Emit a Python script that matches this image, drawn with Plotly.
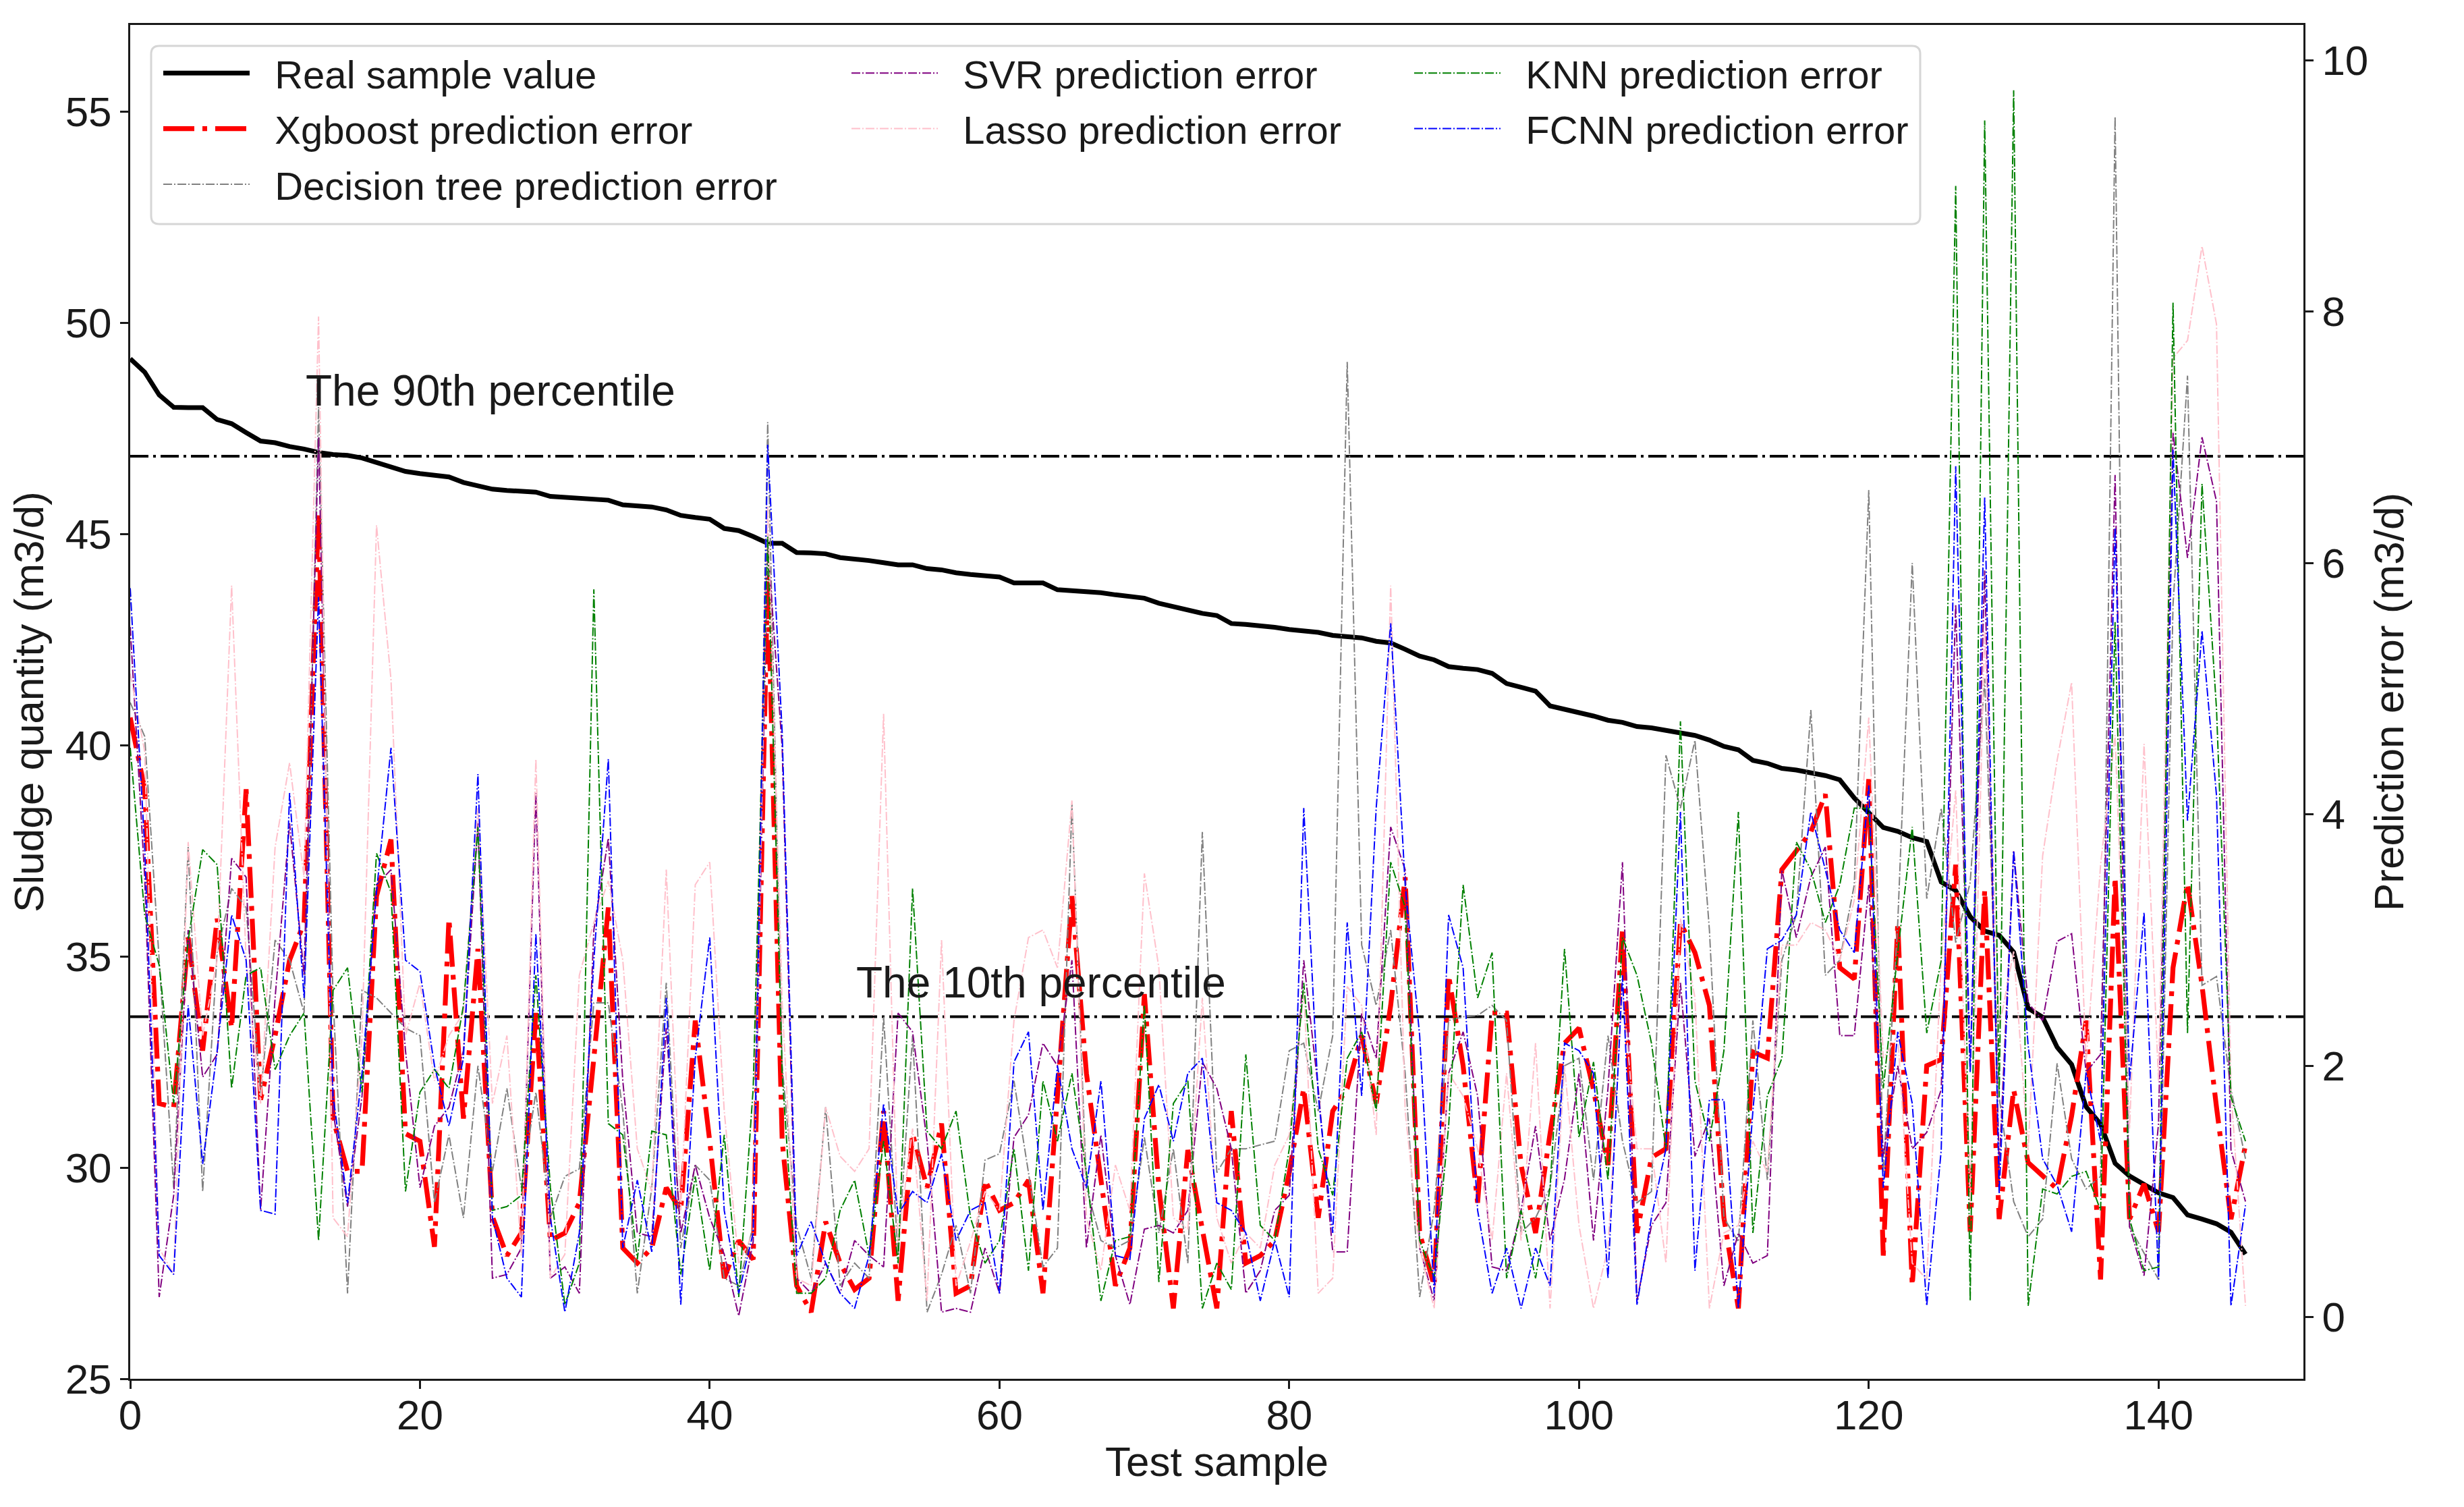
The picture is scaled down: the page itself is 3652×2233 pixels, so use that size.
import plotly.graph_objects as go

# ---------------- data ----------------
samples = list(range(147))

real_value = [49.15, 48.83, 48.29, 48.0, 47.99, 47.99, 47.71, 47.61, 47.4, 47.2,
              47.16, 47.07, 47.01, 46.93, 46.88, 46.86, 46.8, 46.7, 46.6, 46.48,
              46.43, 46.4, 46.35, 46.22, 46.13, 46.06, 46.03, 46.0, 45.99, 45.89,
              45.87, 45.85, 45.82, 45.8, 45.69, 45.66, 45.64, 45.57, 45.44, 45.39,
              45.35, 45.13, 45.08, 44.94, 44.78, 44.78, 44.56, 44.55, 44.53, 44.44,
              44.41, 44.37, 44.32, 44.27, 44.27, 44.18, 44.15, 44.08, 44.04, 44.0,
              43.98, 43.84, 43.84, 43.84, 43.68, 43.66, 43.64, 43.61, 43.56, 43.51,
              43.48, 43.36, 43.28, 43.2, 43.12, 43.07, 42.88, 42.86, 42.83, 42.79,
              42.74, 42.70, 42.67, 42.6, 42.58, 42.54, 42.46, 42.42, 42.27, 42.11,
              42.02, 41.86, 41.82, 41.79, 41.70, 41.46, 41.37, 41.28, 40.93, 40.85,
              40.78, 40.69, 40.59, 40.54, 40.44, 40.41, 40.35, 40.29, 40.23, 40.12,
              39.97, 39.89, 39.64, 39.57, 39.45, 39.41, 39.35, 39.28, 39.18, 38.75,
              38.4, 38.05, 37.96, 37.81, 37.72, 36.76, 36.56, 35.94, 35.6, 35.5,
              35.1, 33.77, 33.56, 32.85, 32.44, 31.44, 31.03, 30.1, 29.8, 29.6,
              29.4, 29.29, 28.88, 28.78, 28.67, 28.47, 27.95]

xgboost_err = [4.77, 4.2, 1.7, 1.67, 3.02, 2.12, 3.17, 2.3, 4.2, 1.73,
               2.24, 2.84, 3.14, 6.4, 1.58, 1.16, 1.16, 3.35, 3.8, 1.46,
               1.4, 0.56, 3.17, 1.58, 2.93, 0.8, 0.49, 0.67, 2.42, 0.61,
               0.67, 0.91, 2.06, 3.26, 0.55, 0.43, 0.55, 1.03, 0.85, 2.36,
               1.4, 0.31, 0.61, 0.46, 5.91, 1.4, 0.25, 0.04, 0.76, 0.43,
               0.22, 0.31, 1.64, 0.13, 1.46, 1.03, 1.54, 0.19, 0.25, 1.09,
               0.85, 0.91, 1.09, 0.19, 1.76, 3.35, 1.94, 1.09, 0.25, 0.55,
               2.57, 1.03, 0.07, 1.33, 0.7, 0.07, 1.64, 0.43, 0.49, 0.61,
               1.15, 1.82, 0.79, 1.64, 1.82, 2.24, 1.7, 2.48, 3.5, 0.67,
               0.25, 2.72, 2.0, 0.91, 2.42, 2.42, 1.21, 0.67, 1.46, 2.18,
               2.3, 1.81, 1.21, 3.08, 0.67, 1.27, 1.34, 3.14, 2.9, 2.48,
               0.79, 0.07, 2.11, 2.06, 3.56, 3.71, 3.86, 4.16, 2.78, 2.69,
               4.28, 0.49, 3.14, 0.25, 2.0, 2.05, 3.6, 0.68, 3.4, 0.78,
               1.81, 1.23, 1.12, 1.02, 1.6, 2.36, 0.3, 3.5, 0.78, 1.06,
               0.68, 2.78, 3.45, 2.64, 1.67, 0.78, 1.37]

dtree_err = [4.89, 4.62, 2.84, 1.03, 3.74, 1.0, 2.9, 3.41, 3.26, 1.76,
             3.0, 2.84, 2.42, 7.24, 2.54, 0.19, 2.6, 2.54, 2.42, 2.3,
             2.24, 0.91, 1.45, 0.79, 2.0, 1.16, 1.82, 1.03, 1.79, 0.79,
             1.12, 1.18, 2.5, 2.5, 1.64, 0.19, 1.03, 2.66, 0.55, 1.21,
             1.09, 0.31, 0.25, 0.73, 7.12, 2.0, 0.73, 0.31, 1.67, 0.25,
             0.43, 0.31, 2.39, 0.49, 2.24, 0.04, 0.34, 0.73, 0.19, 1.25,
             1.3, 1.88, 1.15, 0.4, 0.55, 4.08, 1.03, 0.61, 0.55, 0.61,
             1.43, 0.67, 1.34, 0.43, 3.86, 1.15, 1.34, 1.34, 1.37, 1.4,
             2.12, 2.18, 1.64, 2.24, 7.6, 2.96, 2.48, 3.08, 1.94, 0.16,
             0.85, 2.36, 2.39, 2.4, 2.48, 2.36, 0.67, 0.79, 1.03, 2.0,
             2.06, 1.09, 2.24, 1.4, 0.91, 1.0, 4.47, 4.05, 4.59, 3.08,
             0.79, 0.6, 2.36, 1.09, 2.84, 3.2, 4.83, 2.72, 2.84, 3.44,
             6.58, 1.15, 3.14, 6.0, 3.33, 4.05, 2.98, 3.46, 5.08, 1.75,
             0.92, 0.64, 0.78, 2.02, 1.26, 1.02, 1.12, 9.55, 0.72, 0.51,
             0.3, 5.67, 7.49, 2.64, 2.71, 1.81, 1.26]

svr_err = [5.49, 3.5, 0.16, 0.97, 3.08, 1.91, 2.09, 3.65, 3.5, 0.85,
           2.54, 3.93, 2.72, 7.0, 1.64, 0.88, 1.76, 3.44, 3.56, 2.12,
           1.03, 1.52, 1.67, 2.12, 3.93, 0.31, 0.34, 0.55, 4.17, 0.31,
           0.4, 0.19, 3.08, 3.81, 1.88, 0.67, 0.64, 2.3, 0.67, 1.21,
           0.79, 0.5, 0.01, 0.6, 6.15, 4.53, 0.31, 0.19, 0.43, 0.19,
           0.61, 0.49, 0.4, 2.42, 2.27, 1.4, 0.04, 0.07, 0.04, 0.55,
           0.19, 1.43, 1.61, 2.18, 2.0, 2.84, 0.55, 1.45, 0.49, 0.1,
           0.7, 0.73, 0.67, 0.85, 2.03, 1.82, 1.34, 0.19, 0.37, 0.85,
           0.97, 2.84, 1.82, 0.52, 0.52, 2.42, 2.06, 3.9, 3.56, 0.55,
           0.13, 1.94, 2.27, 1.76, 0.4, 0.37, 0.85, 1.52, 0.61, 1.1,
           1.94, 0.61, 1.82, 3.62, 0.13, 0.73, 0.91, 2.66, 1.28, 1.58,
           0.25, 0.67, 0.43, 0.49, 3.56, 3.02, 3.5, 3.74, 2.24, 2.24,
           3.44, 1.28, 2.0, 1.34, 1.47, 1.81, 5.67, 1.95, 5.94, 1.19,
           3.71, 2.5, 2.36, 2.99, 3.05, 1.95, 2.09, 6.7, 0.72, 0.33,
           1.54, 7.04, 6.04, 7.0, 6.49, 1.33, 0.92]

lasso_err = [5.12, 4.5, 0.55, 0.34, 3.78, 2.24, 2.84, 5.82, 2.84, 1.7,
             3.74, 4.41, 3.5, 7.96, 0.79, 0.64, 2.24, 6.3, 5.07, 2.24,
             2.66, 1.88, 2.24, 2.42, 4.05, 1.7, 2.24, 0.49, 4.44, 0.31,
             0.5, 2.72, 3.14, 3.47, 2.84, 1.34, 1.0, 3.56, 0.85, 3.44,
             3.62, 1.64, 0.43, 0.67, 6.45, 2.5, 0.31, 0.25, 1.67, 1.28,
             1.16, 1.34, 4.8, 0.6, 1.5, 0.13, 3.0, 0.25, 0.6, 1.0,
             0.85, 2.36, 3.02, 3.08, 2.78, 4.11, 0.79, 0.37, 1.21, 0.85,
             3.53, 2.78, 0.79, 0.7, 2.54, 0.79, 0.43, 0.67, 0.55, 1.21,
             1.45, 2.6, 0.19, 0.31, 2.63, 2.48, 1.45, 5.82, 1.64, 0.55,
             0.07, 1.94, 1.76, 1.34, 0.61, 1.94, 0.61, 2.18, 0.07, 2.0,
             0.73, 0.07, 0.55, 2.6, 1.34, 1.34, 0.43, 3.17, 2.54, 0.07,
             0.67, 0.73, 1.4, 1.15, 2.96, 2.96, 3.14, 3.08, 2.84, 3.32,
             4.77, 2.06, 2.24, 0.43, 0.3, 2.84, 4.19, 0.92, 5.46, 2.3,
             2.91, 1.33, 3.67, 4.43, 5.05, 2.02, 3.6, 4.63, 1.5, 4.56,
             1.88, 7.63, 7.77, 8.52, 7.9, 1.81, 0.09]

knn_err = [4.53, 3.2, 2.8, 1.7, 3.0, 3.72, 3.6, 1.82, 2.72, 2.78,
           1.97, 2.24, 2.42, 0.61, 2.6, 2.78, 1.79, 3.69, 3.38, 1.0,
           1.79, 1.97, 1.82, 2.48, 3.9, 0.85, 0.88, 0.97, 2.72, 1.03,
           0.1, 0.43, 5.79, 1.54, 1.45, 0.46, 1.48, 1.45, 0.34, 1.12,
           0.37, 1.45, 0.16, 1.82, 6.21, 1.94, 0.19, 0.19, 0.31, 0.85,
           1.09, 0.49, 1.4, 0.43, 3.41, 1.48, 1.34, 1.64, 0.79, 0.43,
           0.61, 1.34, 0.37, 1.88, 1.4, 1.94, 1.15, 0.13, 0.61, 0.64,
           2.48, 0.28, 1.7, 1.88, 0.07, 0.43, 0.22, 2.09, 0.73, 0.61,
           1.34, 2.66, 1.34, 0.97, 2.06, 2.27, 1.64, 3.62, 3.26, 0.61,
           0.31, 1.52, 3.44, 2.54, 2.9, 0.31, 0.85, 0.31, 1.03, 2.93,
           1.43, 2.03, 1.09, 3.02, 2.72, 2.18, 1.34, 4.74, 1.88, 1.4,
           2.12, 4.02, 0.67, 1.76, 2.06, 3.78, 3.56, 3.14, 3.44, 4.05,
           4.05, 1.82, 2.9, 3.9, 2.26, 2.84, 9.0, 0.13, 9.52, 1.75,
           9.76, 0.09, 1.02, 0.98, 1.12, 1.16, 0.85, 5.53, 0.78, 0.37,
           0.4, 8.07, 2.26, 6.63, 4.84, 1.75, 1.4]

fcnn_err = [5.8, 3.74, 0.49, 0.34, 2.48, 1.22, 2.12, 3.2, 2.84, 0.85,
            0.82, 4.17, 2.54, 5.73, 1.76, 0.91, 1.94, 3.38, 4.53, 2.84,
            2.75, 2.0, 1.52, 2.06, 4.32, 0.79, 0.31, 0.16, 3.05, 0.79,
            0.04, 0.67, 2.84, 4.44, 0.55, 1.09, 0.52, 2.54, 0.1, 2.06,
            3.02, 0.85, 0.19, 0.67, 6.94, 4.65, 0.49, 0.76, 0.43, 0.19,
            0.07, 0.49, 1.7, 0.82, 1.0, 0.91, 1.3, 0.61, 0.85, 0.91,
            0.19, 2.03, 2.27, 0.85, 2.0, 1.34, 1.03, 1.88, 0.49, 0.46,
            1.58, 1.85, 1.4, 1.94, 2.06, 0.91, 0.85, 0.67, 0.13, 0.61,
            0.16, 4.05, 1.76, 0.67, 3.14, 1.76, 4.05, 5.52, 3.44, 2.24,
            0.19, 3.2, 2.78, 0.85, 0.19, 0.55, 0.07, 0.55, 0.25, 2.18,
            2.12, 1.94, 0.31, 2.72, 0.1, 0.79, 1.34, 4.02, 0.37, 1.73,
            1.73, 0.07, 1.64, 2.93, 3.0, 3.2, 4.02, 3.56, 3.08, 2.9,
            4.23, 1.03, 2.27, 1.7, 0.09, 1.33, 6.77, 1.95, 6.52, 0.98,
            3.71, 2.16, 1.26, 1.05, 0.68, 1.95, 1.4, 6.28, 1.88, 3.22,
            0.3, 6.9, 3.95, 5.46, 4.15, 0.09, 0.89]

percentile_90 = 46.84
percentile_10 = 33.57
percentile_labels = ["The 90th percentile", "The 10th percentile"]
x_ticks = [0, 20, 40, 60, 80, 100, 120, 140]
y_ticks = [25, 30, 35, 40, 45, 50, 55]
y2_ticks = [0, 2, 4, 6, 8, 10]

# ---------------- figure ----------------
FONT = "Liberation Sans, Arial, Helvetica, sans-serif"
INK = "#1a1a1a"
BODY = 8                      # default page margin of the html body
W, H = 3652 - BODY, 2233 - BODY
ML, MR, MT, MB = 193 - BODY, 238, 37 - BODY, 190
PW, PH = W - ML - MR, H - MT - MB
PLOT_LEFT, PLOT_BOTTOM = 193, 2043   # screen pixels


def px_x(p):
    return (p - PLOT_LEFT) / PW


def px_y(p):
    return (PLOT_BOTTOM - p) / PH


thin_dash = "13px,3px,2px,3px"
GAP = "\u00a0\u00a0"


def series(y, name, color, width, dash, yaxis, legend):
    return go.Scatter(x=samples, y=y, name=GAP + name, mode="lines",
                      line=dict(color=color, width=width, dash=dash),
                      yaxis=yaxis, legend=legend, legendgroup=name)


fig = go.Figure()
fig.add_trace(series(real_value, "Real sample value", "black", 7, "solid", "y", "legend"))
fig.add_trace(series(xgboost_err, "Xgboost prediction error", "#ff0000", 7.2, "46px,12px,7px,12px", "y2", "legend"))
fig.add_trace(series(dtree_err, "Decision tree prediction error", "#808080", 2, thin_dash, "y2", "legend"))
fig.add_trace(series(svr_err, "SVR prediction error", "#800080", 2, thin_dash, "y2", "legend2"))
fig.add_trace(series(lasso_err, "Lasso prediction error", "#ffc0cb", 2, thin_dash, "y2", "legend2"))
fig.add_trace(series(knn_err, "KNN prediction error", "#008000", 2, thin_dash, "y2", "legend3"))
fig.add_trace(series(fcnn_err, "FCNN prediction error", "#0000ff", 2, thin_dash, "y2", "legend3"))

axis_common = dict(ticks="outside", ticklen=12, tickwidth=3, tickcolor=INK,
                   showline=True, linecolor=INK, linewidth=3, showgrid=False, zeroline=False,
                   tickfont=dict(family=FONT, size=62, color=INK))

legend_common = dict(xanchor="left", yanchor="top", bgcolor="rgba(0,0,0,0)", borderwidth=0,
                     font=dict(family=FONT, size=58, color=INK), itemwidth=128,
                     orientation="v", traceorder="grouped", tracegroupgap=4)

# rounded legend frame
lx0, lx1 = px_x(224), px_x(2846)
ly0, ly1 = px_y(332), px_y(68)
rx, ry = 12 / PW, 12 / PH
frame_path = (f"M {lx0+rx},{ly0} L {lx1-rx},{ly0} Q {lx1},{ly0} {lx1},{ly0+ry} "
              f"L {lx1},{ly1-ry} Q {lx1},{ly1} {lx1-rx},{ly1} L {lx0+rx},{ly1} "
              f"Q {lx0},{ly1} {lx0},{ly1-ry} L {lx0},{ly0+ry} Q {lx0},{ly0} {lx0+rx},{ly0} Z")

fig.update_layout(
    width=W, height=H, autosize=False,
    margin=dict(l=ML, r=MR, t=MT, b=MB, pad=0),
    paper_bgcolor="white", plot_bgcolor="white",
    font=dict(family=FONT, size=62, color=INK),
    xaxis=dict(range=[0, 150], tickvals=x_ticks, mirror=True, ticklabelstandoff=-14,
               title=dict(text="Test sample", font=dict(family=FONT, size=62, color=INK), standoff=0),
               **axis_common),
    yaxis=dict(range=[25, 57.05], tickvals=y_ticks,
               title=dict(text="Sludge quantity (m3/d)", font=dict(family=FONT, size=62, color=INK), standoff=14),
               **axis_common),
    yaxis2=dict(range=[-0.49, 10.28], tickvals=y2_ticks, overlaying="y", side="right",
                title=dict(text="Prediction error (m3/d)", font=dict(family=FONT, size=62, color=INK), standoff=10),
                **axis_common),
    legend=dict(x=px_x(237), y=px_y(64), **legend_common),
    legend2=dict(x=px_x(1257), y=px_y(64), **legend_common),
    legend3=dict(x=px_x(2091), y=px_y(64), **legend_common),
    shapes=[
        dict(type="line", xref="paper", yref="y", x0=0, x1=1, y0=percentile_90, y1=percentile_90,
             line=dict(color="black", width=4, dash="27px,7px,4px,7px"), layer="below"),
        dict(type="line", xref="paper", yref="y", x0=0, x1=1, y0=percentile_10, y1=percentile_10,
             line=dict(color="black", width=4, dash="27px,7px,4px,7px"), layer="below"),
        dict(type="path", xref="paper", yref="paper", path=frame_path,
             line=dict(color="#d6d6d6", width=3), fillcolor="rgba(255,255,255,0.8)", layer="above"),
    ],
    annotations=[
        dict(x=12, y=48, xref="x", yref="y", text=percentile_labels[0], showarrow=False,
             xanchor="left", yanchor="bottom", yshift=-14, font=dict(family=FONT, size=64, color=INK)),
        dict(x=50, y=34, xref="x", yref="y", text=percentile_labels[1], showarrow=False,
             xanchor="left", yanchor="bottom", yshift=-14, font=dict(family=FONT, size=64, color=INK)),
    ],
)

fig.write_html("out.html")
